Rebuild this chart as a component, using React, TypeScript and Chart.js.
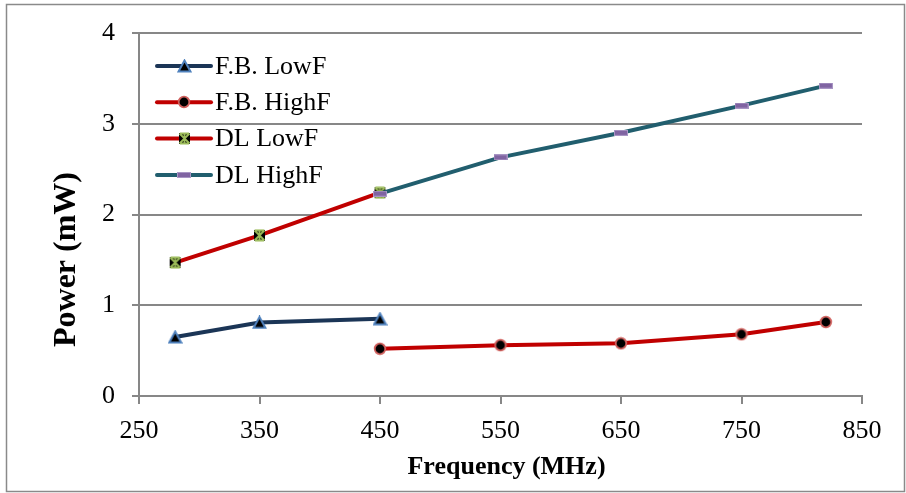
import React, { useEffect, useRef } from "react";
import { Chart, registerables } from "chart.js";

Chart.register(...registerables);

// ---- data ----
const seriesLabels = ["F.B. LowF", "F.B. HighF", "DL LowF", "DL HighF"];
const fbLowFreq = [280, 350, 450];
const fbLowPower = [0.65, 0.81, 0.85];
const fbHighFreq = [450, 550, 650, 750, 820];
const fbHighPower = [0.52, 0.56, 0.58, 0.68, 0.815];
const dlLowFreq = [280, 350, 450];
const dlLowPower = [1.47, 1.77, 2.24];
const dlHighFreq = [450, 550, 650, 750, 820];
const dlHighPower = [2.23, 2.63, 2.9, 3.2, 3.42];
const xTitle = "Frequency (MHz)";
const yTitle = "Power (mW)";
const xMin = 250, xMax = 850, xStep = 100;
const yMin = 0, yMax = 4, yStep = 1;

const FONT = "'Liberation Serif', 'Times New Roman', serif";
const GRID = "#878787";

function makeCanvas(w: number, h: number, draw: (c: CanvasRenderingContext2D) => void) {
  const c = document.createElement("canvas");
  c.width = w;
  c.height = h;
  const ctx = c.getContext("2d")!;
  draw(ctx);
  return c;
}

function triangleMarker() {
  return makeCanvas(15, 14, (c) => {
    c.beginPath();
    c.moveTo(7.5, 1.5);
    c.lineTo(13.5, 12.5);
    c.lineTo(1.5, 12.5);
    c.closePath();
    c.fillStyle = "#000";
    c.fill();
    c.strokeStyle = "#4F81BD";
    c.lineWidth = 2;
    c.stroke();
  });
}
function circleMarker() {
  return makeCanvas(14, 14, (c) => {
    c.beginPath();
    c.arc(7, 7, 5.3, 0, Math.PI * 2);
    c.fillStyle = "#000";
    c.fill();
    c.strokeStyle = "#D0605D";
    c.lineWidth = 1.8;
    c.stroke();
  });
}
function squareXMarker() {
  return makeCanvas(13, 13, (c) => {
    c.fillStyle = "#000";
    c.fillRect(1, 1, 11, 11);
    c.strokeStyle = "#9BBB59";
    c.lineWidth = 1.8;
    c.beginPath();
    c.moveTo(1.5, 1.5);
    c.lineTo(11.5, 11.5);
    c.moveTo(11.5, 1.5);
    c.lineTo(1.5, 11.5);
    c.moveTo(6.5, 1);
    c.lineTo(6.5, 12);
    c.moveTo(2, 1.5);
    c.lineTo(11, 1.5);
    c.moveTo(2, 11.5);
    c.lineTo(11, 11.5);
    c.stroke();
  });
}
function dashMarker() {
  return makeCanvas(14, 6, (c) => {
    c.fillStyle = "#8064A2";
    c.fillRect(1, 1, 12, 4);
    c.strokeStyle = "#A895C4";
    c.lineWidth = 1;
    c.strokeRect(0.5, 0.5, 13, 5);
  });
}

function toPoints(xs: number[], ys: number[]) {
  return xs.map((x, i) => ({ x, y: ys[i] }));
}

const frame = {
  id: "frame",
  beforeDraw(chart: any) {
    const ctx = chart.ctx;
    ctx.save();
    ctx.fillStyle = "#fff";
    ctx.fillRect(0, 0, chart.width, chart.height);
    ctx.strokeStyle = "#8a8a8a";
    ctx.lineWidth = 1.5;
    ctx.strokeRect(6.5, 4.5, 898, 487);
    ctx.restore();
  },
};

const titles = {
  id: "titles",
  afterDraw(chart: any) {
    const ctx = chart.ctx;
    const xs = chart.scales.x;
    const ys = chart.scales.y;
    ctx.save();
    ctx.fillStyle = "#000";
    ctx.textAlign = "center";
    ctx.textBaseline = "middle";
    ctx.font = `bold 26px ${FONT}`;
    ctx.fillText(xTitle, (xs.left + xs.right) / 2 + 6, 467);
    ctx.translate(67, (ys.top + ys.bottom) / 2 + 45);
    ctx.rotate(-Math.PI / 2);
    ctx.font = `bold 32px ${FONT}`;
    ctx.fillText(yTitle, 0, 0);
    ctx.restore();
  },
};

const customLegend = {
  id: "customLegend",
  afterDraw(chart: any) {
    const ctx = chart.ctx;
    const area = chart.chartArea;
    ctx.save();
    chart.data.datasets.forEach((ds: any, i: number) => {
      const y = area.top + 33 + i * 36.3;
      const x0 = area.left + 18;
      const x1 = x0 + 54;
      ctx.strokeStyle = ds.borderColor;
      ctx.lineWidth = 4;
      ctx.lineCap = "round";
      ctx.beginPath();
      ctx.moveTo(x0, y);
      ctx.lineTo(x1, y);
      ctx.stroke();
      const img = ds.pointStyle as HTMLCanvasElement;
      const cx = (x0 + x1) / 2;
      ctx.drawImage(img, Math.round(cx - img.width / 2), Math.round(y - img.height / 2));
      ctx.fillStyle = "#000";
      ctx.font = `26px ${FONT}`;
      ctx.textAlign = "left";
      ctx.textBaseline = "middle";
      ctx.fillText(ds.label, x1 + 4, y + 1);
    });
    ctx.restore();
  },
};

export default function App() {
  const ref = useRef<HTMLCanvasElement | null>(null);
  useEffect(() => {
    if (!ref.current) return;
    const markers = [triangleMarker(), circleMarker(), squareXMarker(), dashMarker()];
    const colors = ["#1B3556", "#C00000", "#C00000", "#215E6E"];
    const sets = [
      toPoints(fbLowFreq, fbLowPower),
      toPoints(fbHighFreq, fbHighPower),
      toPoints(dlLowFreq, dlLowPower),
      toPoints(dlHighFreq, dlHighPower),
    ];
    const chart = new Chart(ref.current, {
      type: "line",
      data: {
        datasets: sets.map((data, i) => ({
          label: seriesLabels[i],
          data,
          borderColor: colors[i],
          backgroundColor: colors[i],
          borderWidth: 4,
          pointStyle: markers[i] as any,
          pointRadius: 6,
          tension: 0,
          fill: false,
          order: 3 - i,
        })),
      },
      options: {
        responsive: false,
        animation: false,
        layout: { padding: { left: 0, top: 33, right: 44, bottom: 0 } },
        plugins: {
          legend: { display: false },
          tooltip: { enabled: false },
          title: { display: false },
        },
        scales: {
          x: {
            type: "linear",
            min: xMin,
            max: xMax,
            afterFit: (s: any) => {
              s.height = 97;
            },
            ticks: {
              stepSize: xStep,
              color: "#000",
              font: { family: FONT, size: 26 },
              padding: 12,
              maxRotation: 0,
              callback: (v: any) => String(v),
            },
            grid: { drawOnChartArea: false, drawTicks: true, tickLength: 8, color: GRID, lineWidth: 2 },
            border: { display: true, color: GRID, width: 2 },
          },
          y: {
            type: "linear",
            min: yMin,
            max: yMax,
            afterFit: (s: any) => {
              s.width = 139;
            },
            ticks: {
              stepSize: yStep,
              color: "#000",
              font: { family: FONT, size: 26 },
              padding: 17,
              callback: (v: any) => String(v),
            },
            grid: { drawOnChartArea: true, drawTicks: true, tickLength: 7, color: GRID, lineWidth: 2 },
            border: { display: true, color: GRID, width: 2 },
          },
        },
      },
      plugins: [frame, titles, customLegend],
    });
    return () => chart.destroy();
  }, []);
  return (
    <div style={{ position: "absolute", left: 0, top: 0, width: 906, height: 493 }}>
      <canvas ref={ref} width={906} height={493} style={{ display: "block" }} />
    </div>
  );
}
